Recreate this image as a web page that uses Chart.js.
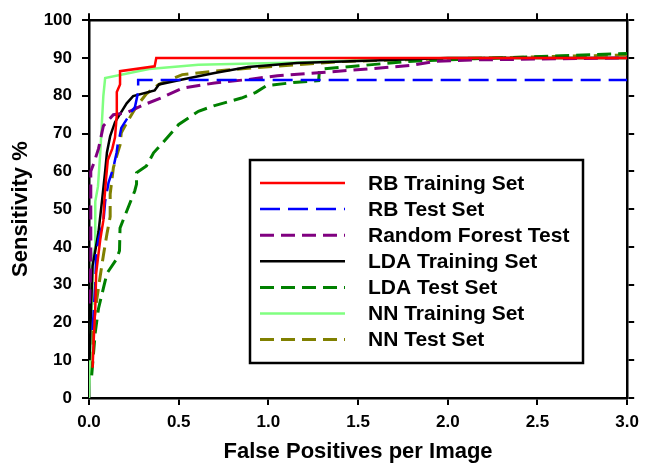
<!DOCTYPE html>
<html>
<head>
<meta charset="utf-8">
<title>ROC curves</title>
<style>
  body { margin: 0; background: #fff; }
  #wrap { width: 646px; height: 465px; }
</style>
<script src="https://cdn.jsdelivr.net/npm/chart.js"></script>
</head>
<body>
<div id="wrap"><canvas id="roc" width="646" height="465"></canvas></div>
<script>
// axis ticks
const xTicks = [0, 0.5, 1.0, 1.5, 2.0, 2.5, 3.0];
const yTicks = [0, 10, 20, 30, 40, 50, 60, 70, 80, 90, 100];

// series values (x = false positives per image, y = sensitivity %)
const rbTrainX = [0.02, 0.026, 0.035, 0.04, 0.05, 0.063, 0.08, 0.085, 0.095, 0.105, 0.13, 0.145, 0.155, 0.155, 0.173, 0.173, 0.366, 0.375, 3.0];
const rbTrainY = [8, 15, 24, 33, 37, 42, 47, 52, 58, 63, 66, 69, 75, 81, 83, 86.5, 87.8, 90, 90];

const rbTestX = [0.02, 0.035, 0.04, 0.053, 0.081, 0.09, 0.109, 0.136, 0.154, 0.164, 0.17, 0.18, 0.24, 0.256, 0.274, 0.274, 3.0];
const rbTestY = [18, 30, 38, 42, 47, 52, 57, 61, 65, 68.5, 69, 71.5, 76, 77, 81, 84.2, 84.2];

const rfTestX = [0.003, 0.01, 0.01, 0.026, 0.053, 0.08, 0.136, 0.21, 0.30, 0.41, 0.52, 0.70, 0.886, 1.05, 1.42, 1.79, 1.93, 2.15, 3.0];
const rfTestY = [25, 36, 60, 62, 66, 72, 75, 75.5, 77.5, 79.6, 82, 83.4, 84.3, 85.3, 86.6, 88, 89.1, 89.5, 90];

const ldaTrainX = [0.003, 0.012, 0.02, 0.035, 0.053, 0.072, 0.09, 0.10, 0.118, 0.145, 0.21, 0.246, 0.366, 0.39, 0.52, 0.70, 0.886, 1.16, 1.5, 2.0, 3.0];
const ldaTrainY = [10, 25, 35, 39, 44, 52, 60, 65, 69.3, 73, 78, 79.9, 81.4, 83, 84.3, 86, 87.6, 88.7, 89.2, 90, 90];

const ldaTestX = [0.015, 0.035, 0.053, 0.08, 0.10, 0.154, 0.17, 0.173, 0.255, 0.265, 0.265, 0.32, 0.36, 0.41, 0.50, 0.61, 0.70, 0.85, 0.93, 0.99, 1.16, 1.28, 1.285, 1.78, 2.15, 3.0];
const ldaTestY = [6, 17.4, 23.7, 29, 33, 36.8, 39, 45, 54.8, 56.6, 59.6, 61.4, 64.9, 67.5, 72.4, 75.9, 77.4, 79.4, 80.9, 82.7, 83.6, 84, 87, 89.1, 89.8, 91.2];

const nnTrainX = [0, 0.006, 0.008, 0.017, 0.02, 0.035, 0.035, 0.05, 0.063, 0.072, 0.08, 0.09, 0.335, 0.61, 1.16, 1.6, 2.0, 3.0];
const nnTrainY = [0, 10, 17, 25, 37, 40, 52, 56, 65, 73, 80, 84.7, 87.1, 88.2, 88.8, 89.5, 90, 90];

const nnTestX = [0.008, 0.017, 0.026, 0.044, 0.063, 0.081, 0.10, 0.118, 0.118, 0.136, 0.154, 0.173, 0.18, 0.21, 0.265, 0.32, 0.39, 0.52, 0.70, 0.886, 1.16, 1.42, 2.0, 3.0];
const nnTestY = [8.6, 11.3, 20, 26.3, 32.4, 38, 43.4, 48, 54, 61, 64, 67, 70.2, 72.8, 77.2, 80.5, 83, 85.6, 86.5, 87.3, 88.2, 89.1, 89.8, 90.8];

const seriesNames = ['RB Training Set', 'RB Test Set', 'Random Forest Test', 'LDA Training Set', 'LDA Test Set', 'NN Training Set', 'NN Test Set'];
const seriesX = [rbTrainX, rbTestX, rfTestX, ldaTrainX, ldaTestX, nnTrainX, nnTestX];
const seriesY = [rbTrainY, rbTestY, rfTestY, ldaTrainY, ldaTestY, nnTrainY, nnTestY];

// styles
const seriesColors = ['#ff0000', '#0000ff', '#800080', '#000000', '#008000', '#80ff80', '#808000'];
const seriesDash = [[], [20, 8], [14, 7], [], [14, 7], [], [14, 7]];
const seriesWidth = [2.5, 2.5, 3, 2.5, 3, 2.5, 3];

const FONT = '"Liberation Sans", Arial, sans-serif';

const datasets = seriesNames.map((name, i) => ({
  label: name,
  data: seriesX[i].map((x, j) => ({ x: x, y: seriesY[i][j] })),
  borderColor: seriesColors[i],
  backgroundColor: seriesColors[i],
  borderDash: seriesDash[i],
  borderWidth: seriesWidth[i],
  pointRadius: 0,
  tension: 0,
  fill: false
}));

// legend box drawn inside the plot
const boxLegend = {
  id: 'boxLegend',
  afterDraw(chart) {
    const ctx = chart.ctx;
    ctx.save();
    ctx.fillStyle = '#fff';
    ctx.fillRect(250, 160, 333, 203);
    ctx.lineWidth = 2.5;
    ctx.strokeStyle = '#000';
    ctx.setLineDash([]);
    ctx.strokeRect(250, 160, 333, 203);
    ctx.font = 'bold 21px ' + FONT;
    ctx.textBaseline = 'middle';
    chart.data.datasets.forEach((ds, i) => {
      const y = 183 + i * 26.1;
      ctx.beginPath();
      ctx.setLineDash(ds.borderDash);
      ctx.strokeStyle = ds.borderColor;
      ctx.lineWidth = ds.borderWidth;
      ctx.moveTo(260, y);
      ctx.lineTo(345, y);
      ctx.stroke();
      ctx.setLineDash([]);
      ctx.fillStyle = '#000';
      ctx.fillText(ds.label, 368, y + 1);
    });
    ctx.restore();
  }
};

const tickFont = { family: FONT, size: 17, weight: 'bold' };
const titleFont = { family: FONT, size: 22, weight: 'bold' };
const gridOpts = { drawOnChartArea: false, drawTicks: true, tickLength: 7, color: '#000', lineWidth: 2 };
const borderOpts = { display: true, color: '#000', width: 2.5 };

new Chart(document.getElementById('roc'), {
  type: 'line',
  data: { datasets: datasets },
  plugins: [boxLegend],
  options: {
    responsive: false,
    animation: false,
    devicePixelRatio: 1,
    layout: { padding: 0 },
    plugins: { legend: { display: false }, tooltip: { enabled: false } },
    scales: {
      x: {
        type: 'linear', position: 'bottom', min: 0, max: 3,
        afterBuildTicks: s => { s.ticks = xTicks.map(v => ({ value: v })); },
        afterFit: s => { s.height = 67; },
        ticks: { font: tickFont, color: '#000', padding: 7, maxRotation: 0, callback: v => v.toFixed(1) },
        grid: gridOpts, border: borderOpts,
        title: { display: true, text: 'False Positives per Image', font: titleFont, color: '#000', padding: { top: 0, bottom: 0 } }
      },
      x2: {
        type: 'linear', position: 'top', min: 0, max: 3,
        afterBuildTicks: s => { s.ticks = xTicks.map(v => ({ value: v })); },
        afterFit: s => { s.height = 19; },
        ticks: { display: false },
        grid: gridOpts, border: borderOpts
      },
      y: {
        type: 'linear', position: 'left', min: 0, max: 100,
        afterBuildTicks: s => { s.ticks = yTicks.map(v => ({ value: v })); },
        afterFit: s => { s.width = 89; },
        ticks: { font: tickFont, color: '#000', padding: 10 },
        grid: gridOpts, border: borderOpts,
        title: { display: true, text: 'Sensitivity %', font: titleFont, color: '#000', padding: { top: 8, bottom: 0 } }
      },
      y2: {
        type: 'linear', position: 'right', min: 0, max: 100,
        afterBuildTicks: s => { s.ticks = yTicks.map(v => ({ value: v })); },
        afterFit: s => { s.width = 10; },
        ticks: { display: false },
        grid: gridOpts, border: borderOpts
      }
    }
  }
});
</script>
</body>
</html>
